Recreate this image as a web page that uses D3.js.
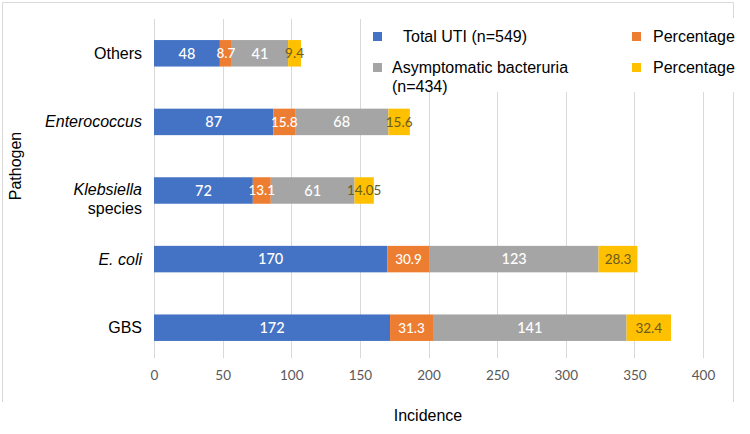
<!DOCTYPE html>
<html><head><meta charset="utf-8">
<script src="https://cdn.jsdelivr.net/npm/d3@7"></script>
<style>body{margin:0;background:#fff}</style>
</head><body><svg id="c" width="750" height="434"></svg>
<script>
const categories = ["Others", "Enterococcus", "Klebsiella species", "E. coli", "GBS"];
const totalUTI = [48, 87, 72, 170, 172];
const pctUTI = [8.7, 15.8, 13.1, 30.9, 31.3];
const asympt = [41, 68, 61, 123, 141];
const pctAsympt = [9.4, 15.6, 14.05, 28.3, 32.4];
const seriesNames = ["Total UTI (n=549)", "Percentage", "Asymptomatic bacteruria (n=434)", "Percentage"];
const xTicks = [0, 50, 100, 150, 200, 250, 300, 350, 400];
const colors = ["#4472C4", "#ED7D31", "#A5A5A5", "#FFC000"];
const labelColors = ["#ffffff", "#ffffff", "#ffffff", "#6b5a22"];

const svg = d3.select("#c");
const x = d3.scaleLinear().domain([0, 400]).range([154, 703]);
const y = d3.scaleBand().domain(categories).range([19, 362]).paddingInner(0.614).paddingOuter(0.307);

// chart frame
svg.append("path").attr("d", "M2.5,402 V2.5 H733.5 V402").attr("fill", "none").attr("stroke", "#d9d9d9").attr("stroke-width", 1);

// gridlines
svg.append("g").selectAll("line").data(xTicks).join("line")
  .attr("x1", d => Math.round(x(d)) + 0.5).attr("x2", d => Math.round(x(d)) + 0.5)
  .attr("y1", 19).attr("y2", 358)
  .attr("stroke", "#d9d9d9").attr("stroke-width", 1);

// x axis labels
const xAxis = d3.axisBottom(x).tickValues(xTicks).tickSize(0).tickPadding(0);
const gx = svg.append("g").attr("transform", "translate(0,370)").call(xAxis);
gx.select(".domain").remove();
gx.selectAll("text").attr("fill", "#595959").attr("font-family", "Lato, 'Open Sans', sans-serif").attr("font-size", 13.5).attr("dy", "0.71em");

// stacked data
const rows = categories.map((c, i) => ({cat: c, v: [totalUTI[i], pctUTI[i], asympt[i], pctAsympt[i]]}));
const keys = [0, 1, 2, 3];
const stack = d3.stack().keys(keys).value((d, k) => d.v[k]);
const stacked = stack(rows);

const gs = svg.append("g").selectAll("g").data(stacked).join("g").attr("fill", (d, i) => colors[i]);
gs.selectAll("rect").data(d => d).join("rect")
  .attr("x", d => x(d[0])).attr("width", d => x(d[1]) - x(d[0]))
  .attr("y", d => y(d.data.cat)).attr("height", y.bandwidth());

// data labels
stacked.forEach((s, si) => {
  svg.append("g").selectAll("text").data(s).join("text")
    .attr("x", d => (x(d[0]) + x(d[1])) / 2)
    .attr("y", d => y(d.data.cat) + y.bandwidth() / 2)
    .attr("dy", "0.36em")
    .attr("text-anchor", "middle")
    .attr("fill", labelColors[si])
    .attr("font-family", "Lato, 'Open Sans', sans-serif")
    .attr("font-size", (si % 2 === 1) ? 13.5 : 14.5)
    .attr("font-weight", si === 3 ? 400 : 500)
    .text(d => d.data.v[si]);
});

// category labels
const italic = {"Enterococcus": true, "E. coli": true};
const gy = svg.append("g").attr("font-family", "'Liberation Sans', Arial, sans-serif").attr("font-size", 16).attr("fill", "#000");
categories.forEach(c => {
  const cy = y(c) + y.bandwidth() / 2;
  if (c === "Klebsiella species") {
    gy.append("text").attr("x", 142).attr("y", cy + 4).attr("text-anchor", "end").attr("font-style", "italic").text("Klebsiella");
    gy.append("text").attr("x", 142).attr("y", cy + 23).attr("text-anchor", "end").text("species");
  } else {
    gy.append("text").attr("x", 142).attr("y", cy + 5.5).attr("text-anchor", "end")
      .attr("font-style", italic[c] ? "italic" : "normal").text(c);
  }
});

// axis titles
svg.append("text").attr("transform", "translate(21,166) rotate(-90)").attr("text-anchor", "middle")
  .attr("font-family", "'Liberation Sans', Arial, sans-serif").attr("font-size", 16).text("Pathogen");
svg.append("text").attr("x", 428).attr("y", 421).attr("text-anchor", "middle")
  .attr("font-family", "'Liberation Sans', Arial, sans-serif").attr("font-size", 16).text("Incidence");

// legend
const lg = svg.append("g").attr("font-family", "'Liberation Sans', Arial, sans-serif").attr("font-size", 16);
lg.append("rect").attr("x", 364).attr("y", 18).attr("width", 378).attr("height", 74).attr("fill", "#fff");
const legendItems = [
  {c: colors[0], sx: 373, sy: 32, tx: 403, lines: [" " + seriesNames[0]].map(s => s.trim())},
  {c: colors[1], sx: 632, sy: 32, tx: 653, lines: [seriesNames[1]]},
  {c: colors[2], sx: 373, sy: 63, tx: 392, lines: ["Asymptomatic bacteruria", "(n=434)"]},
  {c: colors[3], sx: 632, sy: 63, tx: 653, lines: [seriesNames[3]]}
];
legendItems.forEach(it => {
  lg.append("rect").attr("x", it.sx).attr("y", it.sy).attr("width", 9).attr("height", 9).attr("fill", it.c);
  it.lines.forEach((l, j) => {
    lg.append("text").attr("x", it.tx).attr("y", it.sy + 10 + j * 19).text(l);
  });
});
</script></body></html>
